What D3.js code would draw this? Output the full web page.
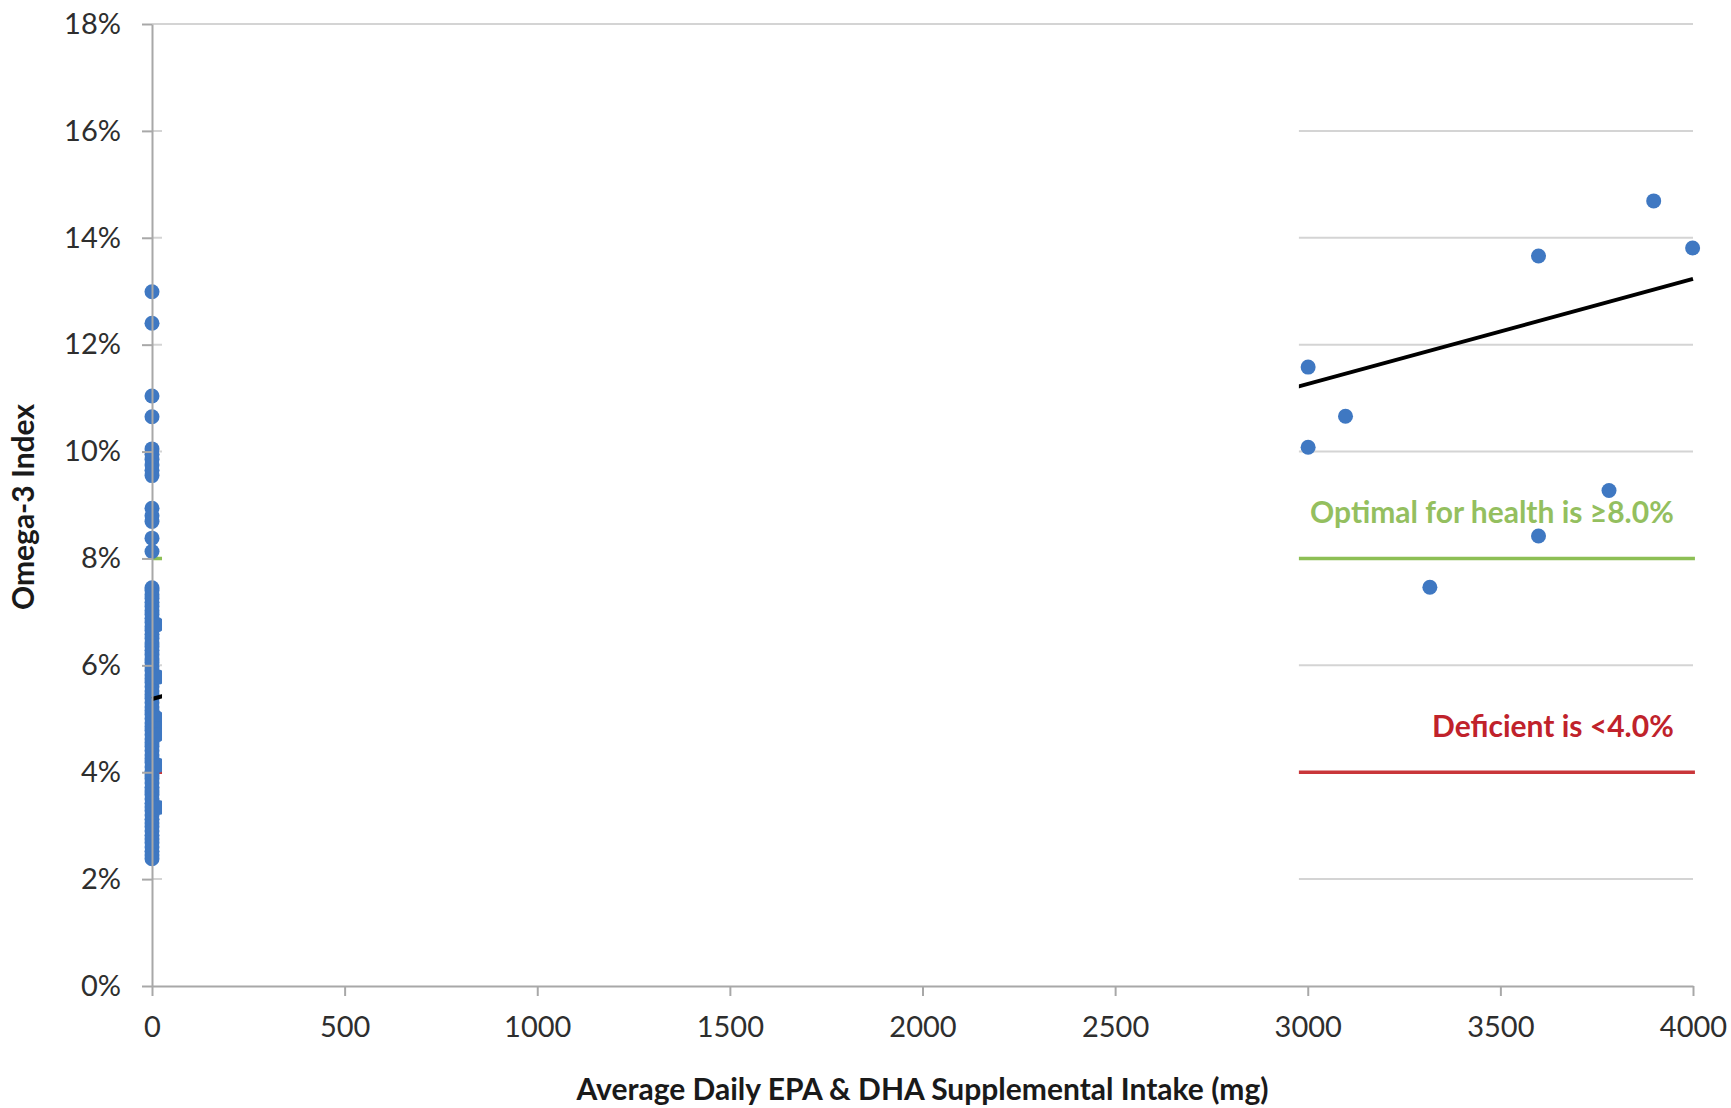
<!doctype html>
<html lang="en">
<head>
    <meta charset="UTF-8">
    <title>Omega-3 Index vs EPA & DHA intake</title>
    <style>
        body { margin: 0; background: #fff; }
        svg { display: block; font-family: Lato, "Open Sans", sans-serif; }
        .axis text { fill: #2e2e2e; font-size: 29px; font-family: Lato, "Open Sans", sans-serif; }
        .axis line, .axis path { stroke: #a8a8a8; stroke-width: 2; }
    </style>
</head>
<body>
    <svg width="1731" height="1108"></svg>
    <script src="https://cdn.jsdelivr.net/npm/d3@7"></script>
    <script>
        // points with ~0 mg intake
        const zeroIntake = [
            12.99, 12.40, 11.04, 10.65, 10.05, 9.95, 9.85, 9.75, 9.65, 9.55,
            8.94, 8.80, 8.69, 8.38, 8.13,
            7.45, 7.40, 7.32, 7.25, 7.18, 7.10, 7.02, 6.95, 6.88, 6.80,
            6.72, 6.65, 6.58, 6.50, 6.42, 6.35, 6.28, 6.20, 6.12, 6.05,
            5.98, 5.90, 5.82, 5.75, 5.68, 5.60, 5.52, 5.45, 5.38, 5.30,
            5.22, 5.15, 5.08, 5.00, 4.92, 4.85, 4.78, 4.70, 4.62, 4.55,
            4.48, 4.40, 4.32, 4.25, 4.18, 4.10, 4.02, 3.95, 3.88, 3.80,
            3.72, 3.65, 3.58, 3.50, 3.42, 3.35, 3.28, 3.20, 3.12, 3.05,
            2.98, 2.90, 2.82, 2.75, 2.68, 2.60, 2.52, 2.45, 2.38
        ];
        // low intake points just right of the axis
        const lowIntakeMg  = [14, 16, 12, 16, 14, 16, 17];
        const lowIntakePct = [6.76, 5.78, 5.02, 4.82, 4.70, 4.13, 3.34];
        // high intake points
        const highIntakeMg  = [3898, 3999, 3599, 3001, 3098, 3001, 3782, 3599, 3317];
        const highIntakePct = [14.69, 13.81, 13.66, 11.58, 10.66, 10.08, 9.27, 8.42, 7.46];

        const trendMg  = [0, 4000];
        const trendPct = [5.37, 13.23];

        const xTicks = [0, 500, 1000, 1500, 2000, 2500, 3000, 3500, 4000];
        const yTicks = [0, 2, 4, 6, 8, 10, 12, 14, 16, 18];

        const optimalLevel = 8, deficientLevel = 4;

        const points = zeroIntake.map(v => [0, v])
            .concat(lowIntakeMg.map((m, i) => [m, lowIntakePct[i]]))
            .concat(highIntakeMg.map((m, i) => [m, highIntakePct[i]]));

        const svg = d3.select("svg");

        const x = d3.scaleLinear().domain([0, 4000]).range([152, 1693]);
        const y = d3.scaleLinear().domain([0, 18]).range([986, 24]);

        // gridlines
        svg.append("g")
            .selectAll("line")
            .data(yTicks.filter(d => d > 0))
            .enter().append("line")
            .attr("x1", x(0)).attr("x2", x(4000))
            .attr("y1", d => y(d)).attr("y2", d => y(d))
            .attr("stroke", "#d4d4d4")
            .attr("stroke-width", 2);

        // reference lines
        svg.append("line")
            .attr("x1", x(0)).attr("x2", x(4005))
            .attr("y1", y(optimalLevel)).attr("y2", y(optimalLevel))
            .attr("stroke", "#8dbf55").attr("stroke-width", 3.5);
        svg.append("line")
            .attr("x1", x(0)).attr("x2", x(4005))
            .attr("y1", y(deficientLevel)).attr("y2", y(deficientLevel))
            .attr("stroke", "#c9363a").attr("stroke-width", 3.5);

        // dots
        svg.append("g")
            .selectAll("circle")
            .data(points)
            .enter().append("circle")
            .attr("cx", d => x(d[0]))
            .attr("cy", d => y(d[1]))
            .attr("r", 7.5)
            .attr("fill", "#3f78c2");

        // trendline
        svg.append("line")
            .attr("x1", x(trendMg[0])).attr("y1", y(trendPct[0]))
            .attr("x2", x(trendMg[1])).attr("y2", y(trendPct[1]))
            .attr("stroke", "#000").attr("stroke-width", 4);

        // white patch that hides the middle of the plot
        svg.append("rect")
            .attr("x", x(26)).attr("y", y(17.9))
            .attr("width", x(2977) - x(26))
            .attr("height", y(0.08) - y(17.9))
            .attr("fill", "#fff");

        // labels for the reference lines
        svg.append("text")
            .attr("x", x(3950)).attr("y", y(optimalLevel) - 35)
            .attr("text-anchor", "end")
            .attr("font-size", 30).attr("font-weight", "bold")
            .attr("fill", "#94bf5f")
            .text("Optimal for health is \u22658.0%");
        svg.append("text")
            .attr("x", x(3950)).attr("y", y(deficientLevel) - 35)
            .attr("text-anchor", "end")
            .attr("font-size", 30).attr("font-weight", "bold")
            .attr("fill", "#c0222b")
            .text("Deficient is <4.0%");

        // axes
        svg.append("g")
            .attr("class", "axis")
            .attr("transform", "translate(" + x(0) + ",0)")
            .call(d3.axisLeft(y).tickValues(yTicks).tickFormat(d => d + "%")
                .tickSize(10).tickSizeOuter(0).tickPadding(21));

        svg.append("g")
            .attr("class", "axis")
            .attr("transform", "translate(0," + y(0) + ")")
            .call(d3.axisBottom(x).tickValues(xTicks).tickFormat(d3.format("d"))
                .tickSize(10).tickSizeOuter(0).tickPadding(20));

        // axis titles
        svg.append("text")
            .attr("transform", "translate(34," + (y(9) + 2) + ") rotate(-90)")
            .attr("text-anchor", "middle")
            .attr("font-size", 30).attr("font-weight", "bold")
            .attr("fill", "#1a1a1a")
            .text("Omega-3 Index");

        svg.append("text")
            .attr("x", (x(0) + x(4000)) / 2)
            .attr("y", 1100)
            .attr("text-anchor", "middle")
            .attr("font-size", 30).attr("font-weight", "bold")
            .attr("fill", "#1a1a1a")
            .text("Average Daily EPA & DHA Supplemental Intake (mg)");
    </script>
</body>
</html>
